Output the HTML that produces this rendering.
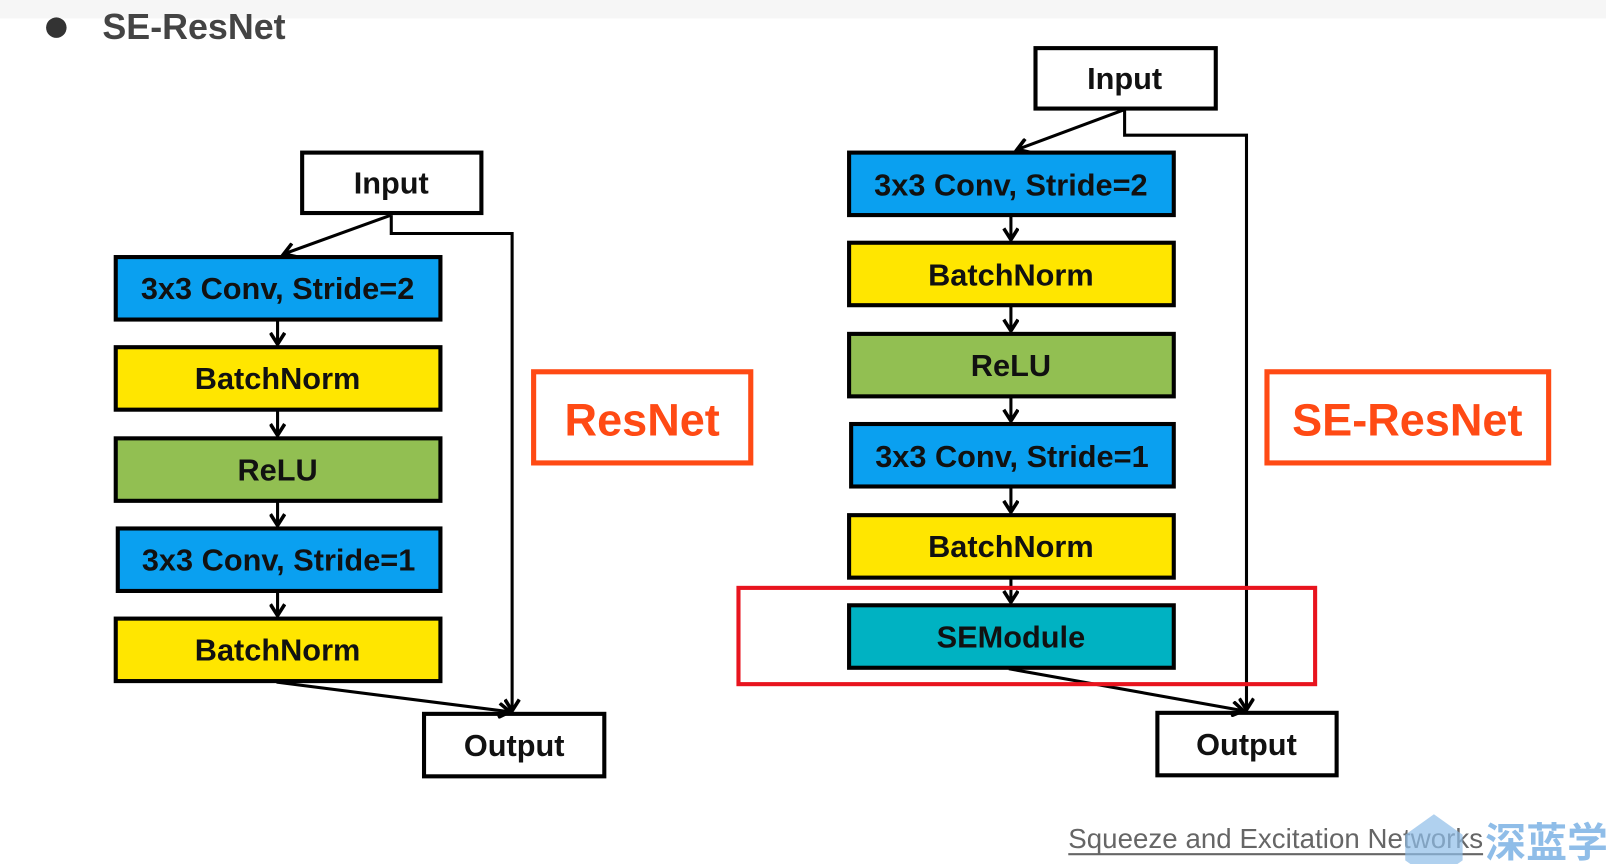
<!DOCTYPE html>
<html><head><meta charset="utf-8"><style>
body{margin:0;background:#fff}
svg{display:block}
text{font-family:"Liberation Sans","Noto Sans CJK SC",sans-serif;font-weight:bold;fill:#111}
</style></head><body>
<svg width="1606" height="864" viewBox="0 0 1568 843.6" preserveAspectRatio="none" xmlns="http://www.w3.org/2000/svg">
<defs>
<marker id="a" markerWidth="16" markerHeight="16" refX="12" refY="8" orient="auto" markerUnits="userSpaceOnUse">
<path d="M1,1 L12,8 L1,15" fill="none" stroke="#000" stroke-width="3.5"/></marker>
</defs>
<rect x="0" y="0" width="1568" height="18" fill="#f6f6f6"/>
<circle cx="55" cy="27" r="10" fill="#333"/>
<text x="100" y="38" font-size="35" style="fill:#444">SE-ResNet</text>

<g stroke="#000" stroke-width="4" fill="none">
<rect x="295" y="149" width="175" height="59" fill="#fff"/>
<rect x="113" y="251" width="317" height="61" fill="#0aa0f0"/>
<rect x="113" y="339" width="317" height="61" fill="#ffe600"/>
<rect x="113" y="428" width="317" height="61" fill="#92bf52"/>
<rect x="115" y="516" width="315" height="61" fill="#0aa0f0"/>
<rect x="113" y="604" width="317" height="61" fill="#ffe600"/>
<rect x="414" y="697" width="176" height="61" fill="#fff"/>
<rect x="1011" y="47" width="176" height="59" fill="#fff"/>
<rect x="829" y="149" width="317" height="61" fill="#0aa0f0"/>
<rect x="829" y="237" width="317" height="61" fill="#ffe600"/>
<rect x="829" y="326" width="317" height="61" fill="#92bf52"/>
<rect x="831" y="414" width="315" height="61" fill="#0aa0f0"/>
<rect x="829" y="503" width="317" height="61" fill="#ffe600"/>
<rect x="829" y="591" width="317" height="61" fill="#00b2c2"/>
<rect x="1130" y="696" width="175" height="61" fill="#fff"/>
</g>
<g stroke="#000" stroke-width="3" fill="none" marker-end="url(#a)">
<path d="M382,210 L277,248"/>
<path d="M271,313 L271,336"/>
<path d="M271,401 L271,425"/>
<path d="M271,490 L271,513"/>
<path d="M271,578 L271,601"/>
<path d="M382,210 L382,228 L500,228 L500,694"/>
<path d="M270,666 L498,695"/>
<path d="M1098,107 L993,146"/>
<path d="M987,211 L987,234"/>
<path d="M987,299 L987,323"/>
<path d="M987,388 L987,411"/>
<path d="M987,476 L987,500"/>
<path d="M987,565 L987,588"/>
<path d="M1098,107 L1098,132 L1217,132 L1217,693"/>
<path d="M985,653 L1214,694"/>
</g>
<rect x="721" y="574" width="563" height="94" fill="none" stroke="#e8141e" stroke-width="4"/>
<rect x="521" y="363" width="212" height="89" fill="none" stroke="#ff4a14" stroke-width="5"/>
<rect x="1237" y="363" width="275" height="89" fill="none" stroke="#ff4a14" stroke-width="5"/>
<g font-size="30" text-anchor="middle">
<text x="382" y="189">Input</text>
<text x="271" y="292">3x3 Conv, Stride=2</text>
<text x="271" y="380">BatchNorm</text>
<text x="271" y="469">ReLU</text>
<text x="272" y="557">3x3 Conv, Stride=1</text>
<text x="271" y="645">BatchNorm</text>
<text x="502" y="738">Output</text>
<text x="1098" y="87">Input</text>
<text x="987" y="191">3x3 Conv, Stride=2</text>
<text x="987" y="279">BatchNorm</text>
<text x="987" y="367">ReLU</text>
<text x="988" y="456">3x3 Conv, Stride=1</text>
<text x="987" y="544">BatchNorm</text>
<text x="987" y="632">SEModule</text>
<text x="1217" y="737">Output</text>
</g>
<text x="627" y="425" font-size="44" text-anchor="middle" style="fill:#ff4a14">ResNet</text>
<text x="1374" y="425" font-size="44" text-anchor="middle" style="fill:#ff4a14">SE-ResNet</text>
<text x="1043" y="828" font-size="27" style="font-weight:normal;fill:#666" textLength="405">Squeeze and  Excitation Networks</text>
<line x1="1043" y1="834" x2="1448" y2="834" stroke="#666" stroke-width="2"/>
<path d="M1372,815 L1400,795 L1428,815 L1428,840 L1400,860 L1372,840Z" fill="#8fbde8" opacity="0.7"/>
<text x="1450" y="837" font-size="40" style="fill:#8fbde8">深蓝学</text>
</svg>
</body></html>
